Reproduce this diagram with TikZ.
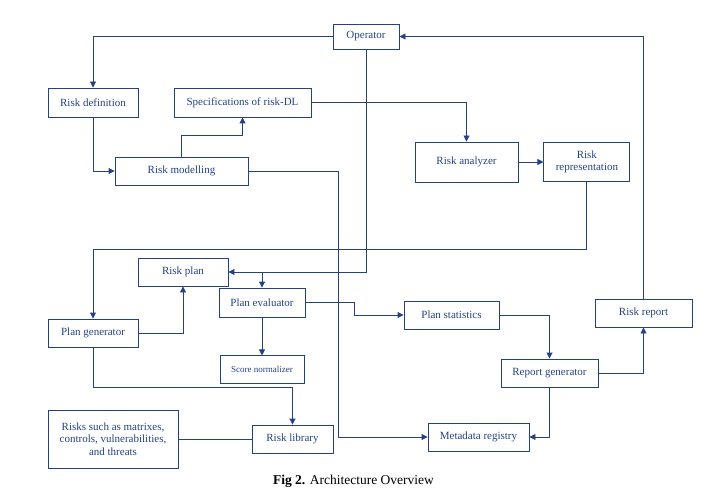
\documentclass[tikz,border=0pt]{standalone}
\usepackage{fontspec}
\setmainfont{Liberation Serif}
\usetikzlibrary{arrows.meta,calc,positioning}
\definecolor{DiagBlue}{RGB}{36,66,130}

\begin{document}
\begin{tikzpicture}[x=1pt,y=-1pt,>={Triangle[length=6pt,width=6pt]},
  blk/.style={draw=DiagBlue,text=DiagBlue,line width=0.9pt,inner sep=0pt,align=center,font=\fontsize{11}{12.5}\selectfont},
  lnk/.style={draw=DiagBlue,line width=0.9pt}]
\useasboundingbox (0,0) rectangle (711,494);
\node[blk,minimum width=66pt,minimum height=25pt] (op) at (366,36.5){Operator};
\node[blk,minimum width=90pt,minimum height=29pt] (rdef) at (93,102.5){Risk definition};
\node[blk,minimum width=137pt,minimum height=29pt] (spec) at (242.5,102.5){Specifications of risk-DL};
\node[blk,minimum width=133pt,minimum height=28pt] (rmod) at (181.5,171){Risk modelling};
\node[blk,minimum width=103pt,minimum height=40pt] (ran) at (466.5,162){Risk analyzer};
\node[blk,minimum width=86pt,minimum height=39pt,right=25pt of ran] (rrep){Risk\\representation};
\node[blk,minimum width=90pt,minimum height=28pt] (rplan) at (183,272){Risk plan};
\node[blk,minimum width=86pt,minimum height=29pt] (peval) at (262,302.5){Plan evaluator};
\node[blk,minimum width=90pt,minimum height=28pt] (pgen) at (93,333){Plan generator};
\node[blk,minimum width=84pt,minimum height=28pt,below=38pt of peval,font=\fontsize{9}{11}\selectfont] (snorm){Score normalizer};
\node[blk,minimum width=130pt,minimum height=58pt] (risks) at (113,439){Risks such as matrixes,\\controls, vulnerabilities,\\and threats};
\node[blk,minimum width=81pt,minimum height=28pt] (rlib) at (292.5,439){Risk library};
\node[blk,minimum width=95pt,minimum height=28pt] (pstat) at (451.5,315){Plan statistics};
\node[blk,minimum width=97pt,minimum height=28pt] (rgen) at (549.5,373){Report generator};
\node[blk,minimum width=97pt,minimum height=28pt] (rrpt) at (643.5,313){Risk report};
\node[blk,minimum width=101pt,minimum height=28pt] (meta) at (478.5,437){Metadata registry};
\node[font=\fontsize{13.5}{15}\selectfont] (cap) at (353.5,481){\textbf{Fig 2.} Architecture Overview};
% upper part
\draw[lnk,->] (op.west) -| (rdef.north);
\draw[lnk,->] (rdef.south) |- (rmod.west);
\draw[lnk,->] (rmod.north) -- ++(0,-21) -| (spec.south);
\draw[lnk,->] (spec.east) -| (ran.north);
\draw[lnk,->] (ran) -- (rrep);
\draw[lnk,->] (rrep.south) -- ++(0,67) -| (pgen.north);
% plans
\draw[lnk,->] (op.south) |- (rplan.east);
\draw[lnk,->] (rplan.east -| peval.north) -- (peval.north);
\draw[lnk,->] (pgen.east) -| (rplan.south);
\draw[lnk,->] (peval) -- (snorm);
\draw[lnk,->] (peval.east) -- ++(49,0) |- (pstat.west);
% reports
\draw[lnk,->] (pstat.east) -| (rgen.north);
\draw[lnk,->] (rgen.east) -| (rrpt.south);
\draw[lnk,->] (rrpt.north) |- (op.east);
\draw[lnk,->] (rgen.south) |- (meta.east);
\draw[lnk,->] (rmod.east) -- ++(90,0) |- (meta.west);
% library
\draw[lnk,->] (pgen.south) -- ++(0,40) -| (rlib.north);
\draw[lnk] (risks) -- (rlib);
\end{tikzpicture}
\end{document}
